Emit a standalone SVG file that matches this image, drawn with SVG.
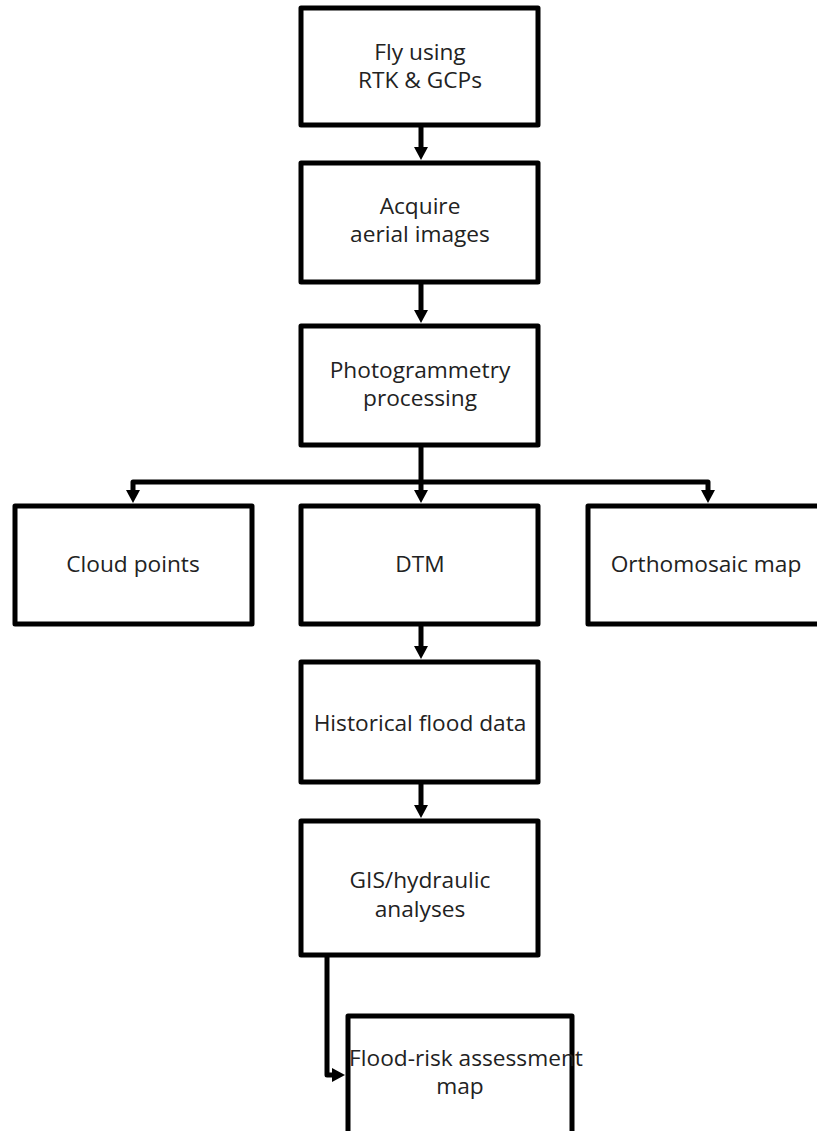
<svg xmlns="http://www.w3.org/2000/svg" width="817" height="1131" viewBox="0 0 817 1131">
<defs>
<marker id="ah" markerUnits="userSpaceOnUse" markerWidth="14" markerHeight="14" refX="3" refY="7" orient="auto">
<path d="M0,0 L13,7 L0,14 z" fill="#000"/>
</marker>
<style>
.box{fill:#fff;stroke:#000;stroke-width:5;stroke-linejoin:round}
.t{font-family:"Open Sans","Liberation Sans",sans-serif;font-size:22.7px;fill:#222;text-anchor:middle}
.c{fill:none;stroke:#000;stroke-width:5;stroke-linejoin:round}
</style>
</defs>
<rect width="817" height="1131" fill="#fff"/>
<g id="connectors">
<path class="c" d="M421,125 V150" marker-end="url(#ah)"/>
<path class="c" d="M421,282 V313" marker-end="url(#ah)"/>
<path class="c" d="M421,445 V493" marker-end="url(#ah)"/>
<path class="c" d="M421,482 H133 V493" marker-end="url(#ah)"/>
<path class="c" d="M421,482 H708 V493" marker-end="url(#ah)"/>
<path class="c" d="M421,624 V649" marker-end="url(#ah)"/>
<path class="c" d="M421,782 V808" marker-end="url(#ah)"/>
<path class="c" d="M327,955 V1075 H335" marker-end="url(#ah)"/>
</g>
<g id="n1"><rect class="box" x="301" y="8" width="237" height="117"/><text class="t" x="420" y="60">Fly using</text><text class="t" x="420" y="88">RTK &amp; GCPs</text></g>
<g id="n2"><rect class="box" x="301" y="163" width="237" height="119"/><text class="t" x="420" y="214">Acquire</text><text class="t" x="420" y="242">aerial images</text></g>
<g id="n3"><rect class="box" x="301" y="326" width="237" height="119"/><text class="t" x="420" y="378">Photogrammetry</text><text class="t" x="420" y="406">processing</text></g>
<g id="n4"><rect class="box" x="15" y="506" width="237" height="118"/><text class="t" x="133" y="572">Cloud points</text></g>
<g id="n5"><rect class="box" x="301" y="506" width="237" height="118"/><text class="t" x="420" y="572">DTM</text></g>
<g id="n6"><rect class="box" x="588" y="506" width="240" height="118"/><text class="t" x="706" y="572">Orthomosaic map</text></g>
<g id="n7"><rect class="box" x="301" y="662" width="237" height="120"/><text class="t" x="420" y="731">Historical flood data</text></g>
<g id="n8"><rect class="box" x="301" y="821" width="237" height="134"/><text class="t" x="420" y="888">GIS/hydraulic</text><text class="t" x="420" y="917">analyses</text></g>
<g id="n9"><rect class="box" x="348" y="1016" width="224" height="120"/><text class="t" x="466" y="1066">Flood-risk assessment</text><text class="t" x="460" y="1094">map</text></g>
</svg>
